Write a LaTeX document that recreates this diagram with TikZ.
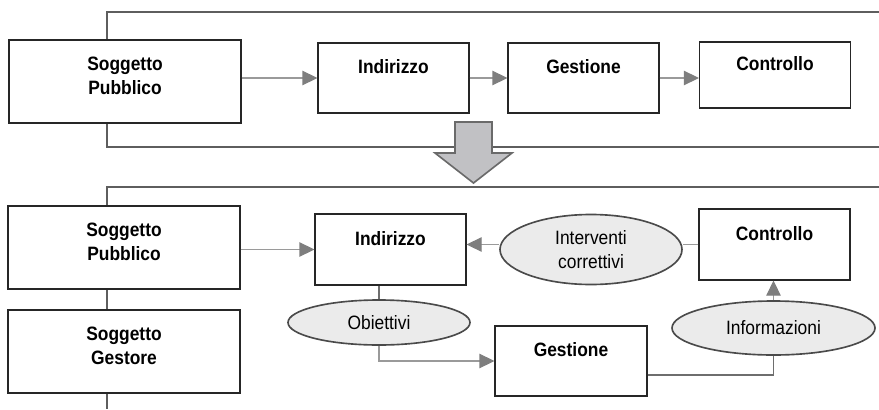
\documentclass[tikz,border=0pt]{standalone}
\usepackage{fontspec}
\setmainfont{Liberation Sans}
\newfontfamily\narrowfont[FakeStretch=0.9]{Liberation Sans}
\usetikzlibrary{shapes.geometric, arrows.meta, positioning}
\definecolor{framegray}{HTML}{5E5E5E}
\definecolor{arrgray}{HTML}{9A9A9A}
\definecolor{tipgray}{HTML}{7E7E7E}
\definecolor{linkgray}{HTML}{6E6E6E}
\definecolor{ovalfill}{HTML}{EBEBEB}
\definecolor{ovalline}{HTML}{4A4A4A}
\definecolor{blockfill}{HTML}{C1C1C4}
\definecolor{blockline}{HTML}{6A6A6A}

\begin{document}
\begin{tikzpicture}[
  x=0.3mm, y=-0.3mm,
  box/.style={rectangle, draw=black!85, line width=0.9pt, fill=white, align=center, inner sep=0pt, font=\narrowfont\bfseries\fontsize{16.5}{21}\selectfont},
  onebox/.style={box, minimum width=45.3mm, minimum height=21mm, text depth=19pt},
  twobox/.style={box, minimum width=69.6mm, minimum height=24.9mm, text depth=10pt},
  oval/.style={ellipse, draw=ovalline, fill=ovalfill, line width=1.4pt, inner sep=0pt, align=center, font=\narrowfont\fontsize{16.5}{20.5}\selectfont},
  frame/.style={draw=framegray, line width=1.7pt},
  arr/.style={draw=arrgray, line width=0.9pt, -{Triangle[length=4.5mm, width=4.3mm, color=tipgray]}},
  link/.style={draw=linkgray, line width=1pt}
]
\useasboundingbox (0,0) rectangle (879,409);

% frames
\draw[frame] (879,12) -| (107,147) -- (879,147);
\draw[frame] (879,187) -| (107,409);

% before
\node[twobox] (pubA) at (125,81.5) {Soggetto\\Pubblico};
\node[onebox] (indA) at (393.5,78) {Indirizzo};
\node[onebox] (gesA) at (583.5,78) {Gestione};
\node[onebox, minimum height=19.8mm] (conA) at (775,75) {Controllo};

\draw[arr] (pubA.east |- indA.west) -- (indA.west);
\draw[arr] (indA.east) -- (gesA.west);
\draw[arr] (gesA.east) -- (gesA.east -| conA.west);

\draw[fill=blockfill, draw=blockline, line width=1.4pt]
  (455,122) -- (492,122) -- (492,153) -- (512,153) -- (473.5,183) -- (435,153) -- (455,153) -- cycle;

% after
\node[twobox] (pubB) at (124,247.5) {Soggetto\\Pubblico};
\node[twobox] (gesB) at (124,351.5) {Soggetto\\Gestore};
\node[onebox, minimum height=21.3mm] (indB) at (390.5,249.5) {Indirizzo};
\node[onebox, minimum height=21.3mm] (conB) at (774.5,244.5) {Controllo};
\node[onebox, minimum width=45.6mm] (gestB) at (571,361) {Gestione};
\node[oval, minimum width=54.6mm, minimum height=21mm] (intB) at (591,249.5) {Interventi\\correttivi};
\node[oval, minimum width=54.6mm, minimum height=13.5mm] (obB) at (379,322.5) {Obiettivi};
\node[oval, minimum width=60.9mm, minimum height=16.2mm] (infB) at (773.5,328) {Informazioni};

\draw[arr] (pubB.east |- indB.west) -- (indB.west);
\draw[draw=arrgray, line width=0.9pt] (conB.west) -- (intB.east |- conB.west);
\draw[arr] (intB.west |- conB.west) -- (indB.east |- conB.west);
\draw[link] (obB.north) -- (obB.north |- indB.south);
\draw[arr] (obB.south) |- (gestB.west);
\draw[link] ([yshift=-4.2mm]gestB.east) -| (infB.south);
\draw[arr] (infB.north) -- (infB.north |- conB.south);
\end{tikzpicture}
\end{document}
